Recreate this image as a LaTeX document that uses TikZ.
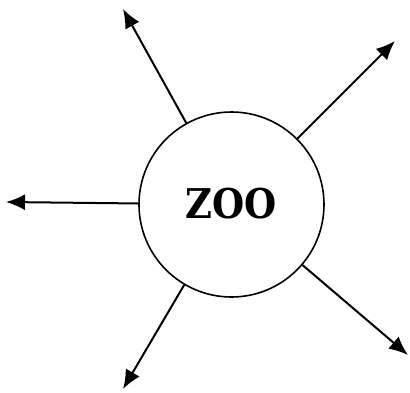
\documentclass[tikz,border=0pt]{standalone}
\usepackage{fontspec}
\setmainfont{DejaVu Serif}
\usetikzlibrary{arrows.meta}

\begin{document}
\begin{tikzpicture}[x=1pt,y=-1pt, line width=2pt,
  spoke/.style={-{Latex[length=19pt,width=16pt]}}]
  \useasboundingbox (0,0) rectangle (410,392);

  \node[circle, draw, line width=1.6pt, minimum size=185pt, inner sep=0pt] (zoo) at (231.5,204.5) {\raisebox{3pt}{\scalebox{0.9}[1]{\fontsize{41}{41}\selectfont\bfseries ZOO}}};

  \coordinate (nw) at (123,9);
  \coordinate (ne) at (395,41);
  \coordinate (w) at (6,202);
  \coordinate (se) at (408,355);
  \coordinate (sw) at (123,389);

  \draw[spoke] (zoo) -- (nw);
  \draw[spoke] (zoo) -- (ne);
  \draw[spoke] (zoo) -- (w);
  \draw[spoke] (zoo) -- (se);
  \draw[spoke] (zoo) -- (sw);
\end{tikzpicture}
\end{document}
